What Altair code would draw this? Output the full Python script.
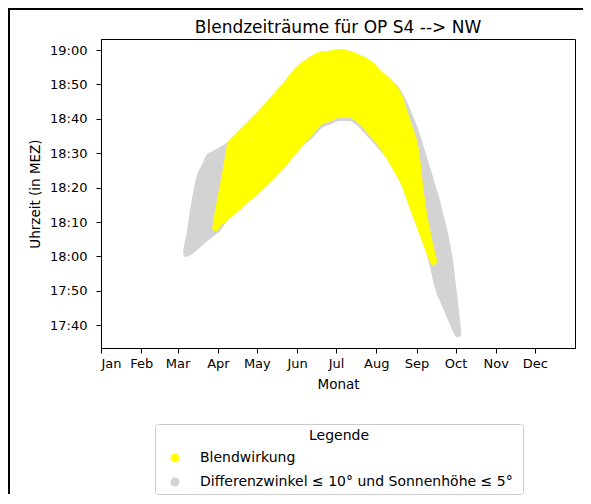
import json
import altair as alt
import pandas as pd

FONT = "DejaVu Sans"
TITLE = "Blendzeiträume für OP S4 --> NW"
X_TITLE = "Monat"
Y_TITLE = "Uhrzeit (in MEZ)"
LEGEND_TITLE = "Legende"
SERIES = ["Blendwirkung", "Differenzwinkel ≤  10° und Sonnenhöhe ≤ 5°"]
COLORS = ["#ffff00", "#d3d3d3"]

MONTHS = ["Jan", "Feb", "Mar", "Apr", "May", "Jun", "Jul", "Aug", "Sep", "Oct", "Nov", "Dec"]
MONTH_START = [0, 31, 59, 90, 120, 151, 181, 212, 243, 273, 304, 334]
Y_TICKS = [1060, 1070, 1080, 1090, 1100, 1110, 1120, 1130, 1140]  # minutes after midnight

# Blendwirkung (yellow): day of year, earliest / latest time (minutes after midnight)
yellow_day = [88.4, 89.8, 91.3, 93.7, 96.0, 98.3, 100.0, 102.9, 106.7, 114.4,
              122.1, 129.8, 137.5, 145.2, 152.9, 160.6, 168.3, 176.0, 183.7, 191.4,
              199.1, 206.8, 214.5, 222.2, 229.9, 233.7, 237.6, 241.4, 243.7, 245.3,
              246.8, 248.7, 250.7, 253.0, 254.5, 256.1]
yellow_lo = [1088.4, 1089.2, 1089.9, 1090.6, 1091.4, 1092.1, 1092.6, 1093.6, 1094.8, 1097.4,
             1099.9, 1102.7, 1105.7, 1109.2, 1112.6, 1115.8, 1119.0, 1120.3, 1121.3, 1121.3,
             1119.7, 1116.6, 1113.2, 1109.0, 1103.9, 1101.3, 1097.2, 1093.2, 1090.9, 1089.3,
             1087.7, 1085.8, 1083.8, 1081.4, 1080.0, 1078.6]
yellow_hi = [1088.4, 1091.7, 1094.8, 1099.6, 1104.4, 1109.2, 1112.8, 1113.9, 1115.4, 1118.3,
             1121.2, 1124.4, 1127.7, 1131.1, 1134.6, 1136.7, 1138.4, 1138.8, 1139.2, 1138.7,
             1137.5, 1135.9, 1132.9, 1130.5, 1126.1, 1121.5, 1117.0, 1112.4, 1106.2, 1100.5,
             1096.5, 1091.6, 1087.8, 1083.5, 1081.2, 1078.8]

# Differenzwinkel / Sonnenhoehe (gray)
gray_day = [66.0, 68.3, 71.0, 73.7, 76.3, 79.8, 83.7, 87.5, 89.8, 92.9,
            97.5, 100.0, 102.9, 106.7, 114.4, 122.1, 129.8, 137.5, 145.2, 152.9,
            160.6, 168.3, 176.0, 183.7, 191.4, 199.1, 206.8, 214.5, 222.2, 227.6,
            229.9, 233.7, 237.6, 241.4, 245.3, 249.1, 253.0, 254.5, 256.1, 258.4,
            260.7, 264.5, 268.4, 271.0, 273.0, 274.9]
gray_lo = [1080.9, 1081.4, 1082.2, 1083.1, 1084.0, 1085.1, 1086.3, 1087.4, 1088.1, 1089.9,
           1091.9, 1092.6, 1093.6, 1094.8, 1097.4, 1099.9, 1102.7, 1105.7, 1109.2, 1112.6,
           1115.0, 1118.1, 1119.4, 1120.4, 1120.4, 1118.8, 1115.7, 1112.5, 1109.0, 1105.5,
           1103.9, 1101.3, 1097.2, 1093.2, 1089.3, 1085.4, 1081.4, 1079.4, 1076.8, 1073.0,
           1069.9, 1066.5, 1063.0, 1060.8, 1059.0, 1057.6]
gray_hi = [1082.0, 1085.9, 1092.8, 1098.6, 1103.2, 1105.9, 1109.0, 1109.8, 1110.3, 1111.0,
           1112.0, 1112.8, 1113.9, 1115.4, 1118.3, 1121.2, 1124.4, 1127.7, 1131.1, 1134.6,
           1136.7, 1138.4, 1138.8, 1139.2, 1138.7, 1137.5, 1135.9, 1132.9, 1130.5, 1128.4,
           1126.8, 1124.1, 1120.6, 1117.0, 1112.4, 1107.7, 1102.9, 1100.9, 1099.0, 1096.1,
           1092.5, 1086.7, 1078.6, 1070.4, 1064.2, 1057.6]

gray_df = pd.DataFrame({"day": gray_day, "lo": gray_lo, "hi": gray_hi, "Legende": SERIES[1]})
yellow_df = pd.DataFrame({"day": yellow_day, "lo": yellow_lo, "hi": yellow_hi, "Legende": SERIES[0]})

month_expr = f"{json.dumps(MONTHS)}[indexof({json.dumps(MONTH_START)}, datum.value)]"
time_expr = "floor(datum.value / 60) + ':' + (datum.value % 60 < 10 ? '0' : '') + (datum.value % 60)"

x_enc = alt.X("day:Q",
              scale=alt.Scale(domain=[0, 365], nice=False, zero=False),
              axis=alt.Axis(values=MONTH_START, labelExpr=month_expr, title=X_TITLE,
                            tickSize=5, labelPadding=4, titlePadding=7))
y_enc = alt.Y("lo:Q",
              scale=alt.Scale(domain=[1053.4, 1143.2], nice=False, zero=False),
              axis=alt.Axis(values=Y_TICKS, labelExpr=time_expr, title=Y_TITLE,
                            tickSize=5, labelPadding=9, titlePadding=7))
color_enc = alt.Color("Legende:N",
                      scale=alt.Scale(domain=SERIES, range=COLORS),
                      legend=alt.Legend(orient="none", legendX=54, legendY=385,
                                        title=LEGEND_TITLE, titleAnchor="middle",
                                        symbolType="circle", symbolSize=80,
                                        symbolStrokeWidth=0, symbolOffset=8,
                                        fillColor="white", strokeColor="#cccccc",
                                        cornerRadius=3, padding=5,
                                        labelFontSize=14, titleFontSize=14,
                                        labelFont=FONT, titleFont=FONT,
                                        titleFontWeight="normal", labelColor="black",
                                        titleColor="black", rowPadding=10,
                                        titlePadding=8, labelOffset=18, labelLimit=500))
stroke_enc = alt.Stroke("Legende:N", scale=alt.Scale(domain=SERIES, range=COLORS), legend=None)


def band(df):
    return alt.Chart(df).mark_area(
        interpolate="monotone", strokeWidth=7, strokeJoin="round", opacity=1
    ).encode(x=x_enc, y=y_enc, y2="hi:Q", color=color_enc, stroke=stroke_enc)


frame_df = pd.DataFrame({"k": [0]})
frame_left = alt.Chart(frame_df).mark_rule(color="black", strokeWidth=2).encode(
    x=alt.value(-92), y=alt.value(-30), y2=alt.value(455))
frame_top = alt.Chart(frame_df).mark_rule(color="black", strokeWidth=2).encode(
    x=alt.value(-93), x2=alt.value(482), y=alt.value(-30))

chart = alt.layer(band(gray_df), band(yellow_df), frame_left, frame_top).properties(
    width=474, height=309,
    title=alt.Title(TITLE, fontSize=17, font=FONT, fontWeight="normal",
                    anchor="middle", offset=6, dy=35, color="black"),
    autosize=alt.AutoSizeParams(type="none"),
    padding={"left": 93, "top": 31, "right": 8, "bottom": 147},
).configure_view(
    stroke="black", strokeWidth=1
).configure_axis(
    grid=False, domainColor="black", tickColor="black", labelColor="black",
    titleColor="black", labelFont=FONT, titleFont=FONT, labelFontSize=13,
    titleFontSize=13.5, titleFontWeight="normal"
)

chart.save("out.html", embed_options={"renderer": "svg", "actions": False})
